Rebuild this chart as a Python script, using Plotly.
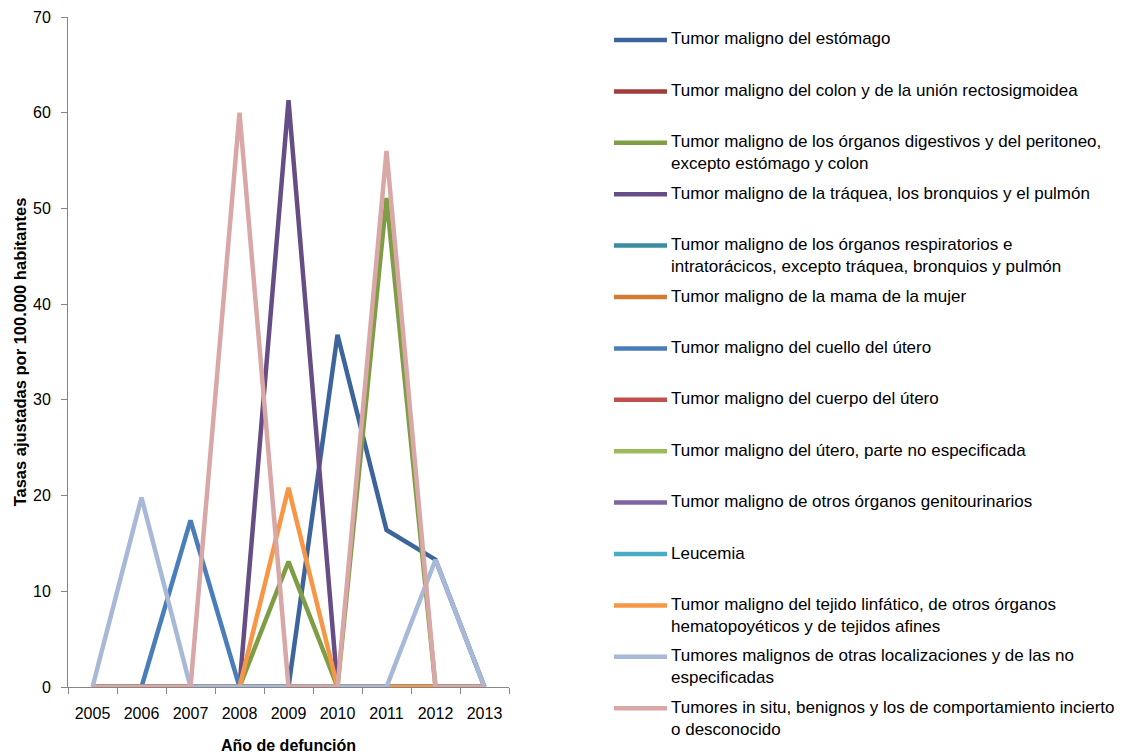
import plotly.graph_objects as go

# ── Data ────────────────────────────────────────────────────────────────────
YEARS = ["2005", "2006", "2007", "2008", "2009", "2010", "2011", "2012", "2013"]

SERIES_NAMES = [
    "Tumor maligno del estómago",
    "Tumor maligno del colon y de la unión rectosigmoidea",
    "Tumor maligno de los órganos digestivos y del peritoneo,<br>excepto estómago y colon",
    "Tumor maligno de la tráquea, los bronquios y el pulmón",
    "Tumor maligno de los órganos respiratorios e<br>intratorácicos, excepto tráquea, bronquios y pulmón",
    "Tumor maligno de la mama de la mujer",
    "Tumor maligno del cuello del útero",
    "Tumor maligno del cuerpo del útero",
    "Tumor maligno del útero, parte no especificada",
    "Tumor maligno de otros órganos genitourinarios",
    "Leucemia",
    "Tumor maligno del tejido linfático, de otros órganos<br>hematopoyéticos y de tejidos afines",
    "Tumores malignos de otras localizaciones y de las no<br>especificadas",
    "Tumores in situ, benignos y los de comportamiento incierto<br>o desconocido",
]

estomago = [0, 0, 0, 0, 0, 36.8, 16.4, 13.3, 0]
colon = [0, 0, 0, 0, 0, 0, 0, 0, 0]
digestivos = [0, 0, 0, 0, 13.1, 0, 51.1, 0, 0]
traquea = [0, 0, 0, 0, 61.3, 0, 0, 0, 0]
respiratorios = [0, 0, 0, 0, 0, 0, 0, 0, 0]
mama = [0, 0, 0, 0, 0, 0, 0, 0, 0]
cuello_utero = [0, 0, 17.4, 0, 0, 0, 0, 0, 0]
cuerpo_utero = [0, 0, 0, 0, 0, 0, 0, 0, 0]
utero_ne = [0, 0, 0, 0, 0, 0, 0, 0, 0]
genitourinarios = [0, 0, 0, 0, 0, 0, 0, 0, 0]
leucemia = [0, 0, 0, 0, 0, 0, 0, 0, 0]
linfatico = [0, 0, 0, 0, 20.8, 0, 0, 0, 0]
otras = [0, 19.8, 0, 0, 0, 0, 0, 13.3, 0]
in_situ = [0, 0, 0, 60.0, 0, 0, 56.0, 0, 0]

SERIES_VALUES = [estomago, colon, digestivos, traquea, respiratorios, mama,
                 cuello_utero, cuerpo_utero, utero_ne, genitourinarios,
                 leucemia, linfatico, otras, in_situ]

COLORS = ["#3D659B", "#A03D3B", "#7F9D45", "#664D85", "#3A8DA1", "#D27B33",
          "#4A7EBB", "#C0504D", "#9BBB59", "#8064A2", "#4BACC6", "#F79646",
          "#A7B9D7", "#D9A7A6"]

Y_TICKS = [0, 10, 20, 30, 40, 50, 60, 70]

# ── Layout geometry (pixels) ────────────────────────────────────────────────
W, H = 1134, 755
PLOT_L, PLOT_R, PLOT_T, PLOT_B = 68, 509, 17, 687
FONT = "Liberation Sans, Arial, sans-serif"
AXIS_GREY = "#868686"


def px_x(px):
    return (px - PLOT_L) / (PLOT_R - PLOT_L)


def px_y(py):
    return (PLOT_B - py) / (PLOT_B - PLOT_T)


fig = go.Figure()
for name, vals, color in zip(SERIES_NAMES, SERIES_VALUES, COLORS):
    fig.add_trace(go.Scatter(
        x=YEARS, y=vals, name=name.replace("<br>", " "),
        mode="lines", line=dict(color=color, width=4.5),
        showlegend=False,
    ))

# manual legend, Excel style: fixed slot per entry
LEG_TOP, LEG_STEP = 40, 51.4
for i, (name, color) in enumerate(zip(SERIES_NAMES, COLORS)):
    cy = LEG_TOP + i * LEG_STEP
    fig.add_shape(type="line", xref="paper", yref="paper",
                  x0=px_x(614), x1=px_x(667), y0=px_y(cy), y1=px_y(cy),
                  line=dict(color=color, width=4.5))
    fig.add_annotation(text=name, xref="paper", yref="paper",
                       x=px_x(669), y=px_y(cy - 12.5), xanchor="left", yanchor="top",
                       align="left", showarrow=False,
                       font=dict(family=FONT, size=17, color="#000000"))

fig.update_layout(
    width=W, height=H,
    paper_bgcolor="white", plot_bgcolor="white",
    margin=dict(l=PLOT_L, r=W - PLOT_R, t=PLOT_T, b=H - PLOT_B),
    font=dict(family=FONT, size=16, color="#000000"),
    xaxis=dict(
        type="category", range=[-0.5, len(YEARS) - 0.5],
        showline=True, linecolor=AXIS_GREY, linewidth=1,
        ticks="outside", tickson="boundaries", ticklen=6, tickcolor=AXIS_GREY,
        showgrid=False, zeroline=False, tickangle=0, ticklabelstandoff=12,
        tickfont=dict(family=FONT, size=16),
        title=dict(text="<b>Año de defunción</b>", standoff=18,
                   font=dict(family=FONT, size=16)),
        automargin=False,
    ),
    yaxis=dict(
        range=[0, 70], tickvals=Y_TICKS,
        showline=True, linecolor=AXIS_GREY, linewidth=1,
        ticks="outside", ticklen=6, tickcolor=AXIS_GREY,
        showgrid=False, zeroline=False, ticklabelstandoff=7,
        tickfont=dict(family=FONT, size=16),
        title=dict(text="<b>Tasas ajustadas por 100.000 habitantes</b>", standoff=2,
                   font=dict(family=FONT, size=16.5)),
        automargin=False,
    ),
)

fig.write_html("out.html", config={"displayModeBar": False},
               post_script="document.body.style.margin='0px';")
